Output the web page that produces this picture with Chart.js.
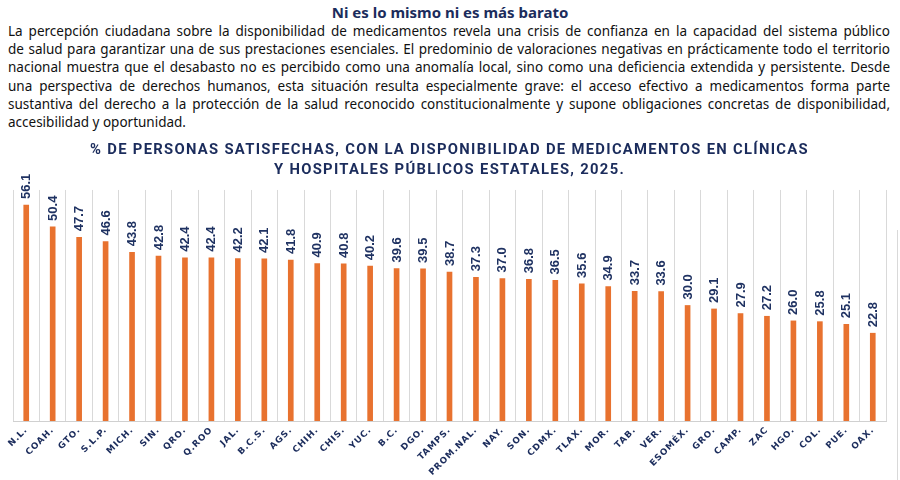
<!DOCTYPE html>
<html>
<head>
<meta charset="utf-8">
<script src="https://cdn.jsdelivr.net/npm/chart.js@4.4.1/dist/chart.umd.min.js"></script>
<style>
  html, body { margin:0; padding:0; background:#fff; }
  body { width:900px; height:480px; position:relative; overflow:hidden; }
  #head { position:absolute; left:0; top:3px; width:900px; text-align:center;
          font-family:"Noto Sans", sans-serif; font-weight:700; font-size:15px; color:#1b2c5c; line-height:18px; }
  #para { position:absolute; left:8px; top:22px; width:882px;
          font-family:"Noto Sans", sans-serif; font-size:13px; color:#111; line-height:18.2px; }
  #para div { white-space:nowrap; text-align:justify; text-align-last:justify; }
  #para div.last { text-align-last:left; }
  #wrap { position:absolute; left:0; top:135px; width:900px; height:345px; }
  #rb { position:absolute; left:897px; top:230px; width:1px; height:250px; background:#d9d9d9; }
</style>
</head>
<body>
<div id="head">Ni es lo mismo ni es más barato</div>
<div id="para">
<div>La percepción ciudadana sobre la disponibilidad de medicamentos revela una crisis de confianza en la capacidad del sistema público</div>
<div>de salud para garantizar una de sus prestaciones esenciales. El predominio de valoraciones negativas en prácticamente todo el territorio</div>
<div>nacional muestra que el desabasto no es percibido como una anomalía local, sino como una deficiencia extendida y persistente. Desde</div>
<div>una perspectiva de derechos humanos, esta situación resulta especialmente grave: el acceso efectivo a medicamentos forma parte</div>
<div>sustantiva del derecho a la protección de la salud reconocido constitucionalmente y supone obligaciones concretas de disponibilidad,</div>
<div class="last">accesibilidad y oportunidad.</div>
</div>
<div id="rb"></div>
<div id="wrap"><canvas id="c"></canvas></div>
<script>
const categories = ["N.L.","COAH.","GTO.","S.L.P.","MICH.","SIN.","QRO.","Q.ROO","JAL.","B.C.S.","AGS.","CHIH.","CHIS.","YUC.","B.C.","DGO.","TAMPS.","PROM.NAL.","NAY.","SON.","CDMX.","TLAX.","MOR.","TAB.","VER.","ESOMÉX.","GRO.","CAMP.","ZAC","HGO.","COL.","PUE.","OAX."];
const satisfechos = [56.1,50.4,47.7,46.6,43.8,42.8,42.4,42.4,42.2,42.1,41.8,40.9,40.8,40.2,39.6,39.5,38.7,37.3,37.0,36.8,36.5,35.6,34.9,33.7,33.6,30.0,29.1,27.9,27.2,26.0,25.8,25.1,22.8];
const chartTitle = ["% DE PERSONAS SATISFECHAS, CON LA DISPONIBILIDAD DE MEDICAMENTOS EN CLÍNICAS","Y HOSPITALES PÚBLICOS ESTATALES, 2025."];

(function(){
  const p = document.getElementById('para');
  let fs = 13.5;
  p.style.fontSize = fs + 'px';
  let maxW = 0;
  p.querySelectorAll('div').forEach(d => { d.style.display='inline-block'; maxW = Math.max(maxW, d.scrollWidth); });
  p.querySelectorAll('div').forEach(d => { d.style.display='block'; });
  if (maxW > 880) { fs = fs * 880 / maxW; p.style.fontSize = fs + 'px'; }
})();

const valueLabels = {
  id: 'valueLabels',
  afterDatasetsDraw(chart) {
    const ctx = chart.ctx;
    const meta = chart.getDatasetMeta(0);
    ctx.save();
    ctx.font = 'bold 13px "Liberation Sans", Arial, sans-serif';
    ctx.fillStyle = '#1f3262';
    ctx.textAlign = 'left';
    ctx.textBaseline = 'middle';
    meta.data.forEach((bar, i) => {
      ctx.save();
      ctx.translate(bar.x, bar.y - 6);
      ctx.rotate(-Math.PI / 2);
      ctx.fillText(satisfechos[i].toFixed(1), 0, 0.5);
      ctx.restore();
    });
    ctx.restore();
  }
};

const spacing = {
  id: 'spacing',
  afterLayout(chart) {
    const wrap = (obj, fn, ls) => {
      if (!obj || obj['_ls_' + fn]) return;
      const orig = obj[fn];
      obj[fn] = function(...args) {
        const ctx = chart.ctx;
        ctx.save();
        ctx.letterSpacing = ls;
        const r = orig.apply(this, args);
        ctx.restore();
        return r;
      };
      obj['_ls_' + fn] = true;
    };
    wrap(chart.titleBlock, 'draw', '1.3px');
    wrap(chart.scales.x, 'drawLabels', '0.9px');
  }
};

const chart = new Chart(document.getElementById('c'), {
  type: 'bar',
  data: {
    labels: categories,
    datasets: [{
      data: satisfechos,
      backgroundColor: '#e8722f',
      borderWidth: 0,
      barThickness: 5
    }]
  },
  options: {
    responsive: true,
    maintainAspectRatio: false,
    animation: false,
    layout: { padding: { left: 13, right: 14, top: 0, bottom: 0 } },
    plugins: {
      legend: { display: false },
      tooltip: { enabled: false },
      title: {
        display: true,
        text: chartTitle,
        color: '#1b2c5c',
        font: { family: 'Roboto, sans-serif', weight: 'bold', size: 14.8, lineHeight: 1.35 },
        padding: { top: 5, bottom: 10 }
      }
    },
    scales: {
      x: {
        offset: true,
        grid: { display: true, offset: true, color: '#d9d9d9', drawTicks: false },
        border: { display: true, color: '#d0d0d0' },
        ticks: {
          maxRotation: 45, minRotation: 45, autoSkip: false, padding: 4,
          color: '#1b2c5c',
          font: { family: '"DejaVu Sans", sans-serif', weight: 'bold', size: 8.8 }
        },
        afterFit(scale) { scale.height = 59; scale.paddingLeft = 0; scale.paddingRight = 0; }
      },
      y: {
        display: false,
        min: 0, max: 60
      }
    }
  },
  plugins: [valueLabels, spacing]
});
chart.draw();
</script>
</body>
</html>
